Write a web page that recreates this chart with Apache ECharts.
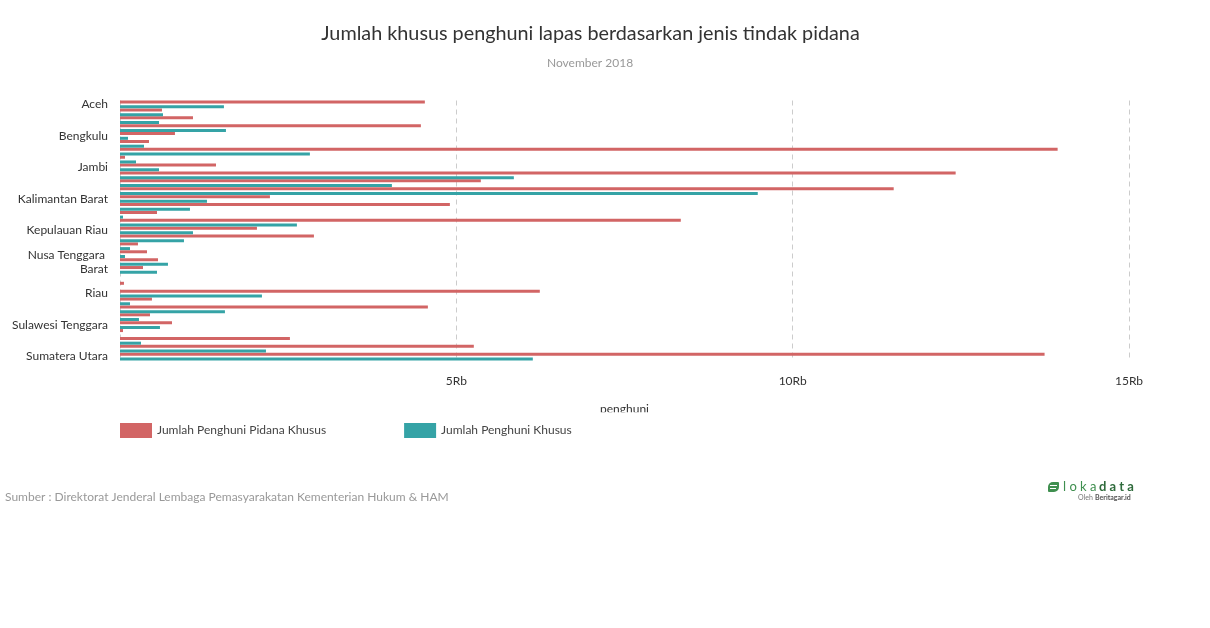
<!DOCTYPE html>
<html>
<head>
<meta charset="utf-8">
<script src="https://cdn.jsdelivr.net/npm/echarts@6/dist/echarts.min.js"></script>
<style>
html,body{margin:0;padding:0;background:#fff;}
#chart{width:1210px;height:628px;}
</style>
</head>
<body>
<div id="chart"></div>
<script>
const categories = ["Aceh","Bali","Bangka Belitung","Banten","Bengkulu","DI Yogyakarta","DKI Jakarta","Gorontalo","Jambi","Jawa Barat","Jawa Tengah","Jawa Timur","Kalimantan Barat","Kalimantan Selatan","Kalimantan Tengah","Kalimantan Timur","Kepulauan Riau","Lampung","Maluku","Maluku Utara","Nusa Tenggara Barat","Nusa Tenggara Timur","Papua","Papua Barat","Riau","Sulawesi Barat","Sulawesi Selatan","Sulawesi Tengah","Sulawesi Tenggara","Sulawesi Utara","Sumatera Barat","Sumatera Selatan","Sumatera Utara"];
const pidanaKhusus = [4532,624,1085,4473,817,431,13939,74,1427,12423,5364,11502,2229,4904,550,8337,2036,2883,267,401,565,342,0,59,6241,475,4577,446,773,45,2526,5260,13745];
const penghuniKhusus = [1545,639,580,1575,119,357,2823,238,580,5855,4042,9481,1293,1040,45,2630,1085,951,149,74,713,550,0,0,2110,149,1560,282,594,0,312,2170,6137];
const xTicks = [0,5000,10000,15000];
const seriesNames = ["Jumlah Penghuni Pidana Khusus","Jumlah Penghuni Khusus"];
const colors = ["#d26565","#35a3a6"];

const chart = echarts.init(document.getElementById('chart'), null, {renderer:'canvas'});
const FONT = 'Lato';
chart.setOption({
  animation:false,
  color: colors,
  textStyle:{fontFamily:FONT},
  title:[
    {text:"Jumlah khusus penghuni lapas berdasarkan jenis tindak pidana", left:585.5, top:19, textAlign:'center',
     textStyle:{fontFamily:FONT,fontSize:19.8,fontWeight:'normal',color:'#333'}},
    {text:"November 2018", left:585, top:52, textAlign:'center',
     textStyle:{fontFamily:FONT,fontSize:12,fontWeight:'normal',color:'#999'}}
  ],
  legend:{
    left:115, top:418, itemWidth:32, itemHeight:15, itemGap:78, icon:'rect',
    textStyle:{fontFamily:FONT,fontSize:12,color:'#444'},
    data:seriesNames
  },
  grid:{left:120, right:81, top:100.5, height:260, containLabel:false},
  xAxis:{
    type:'value', min:xTicks[0], max:xTicks[xTicks.length-1], interval:5000,
    axisLine:{show:false}, axisTick:{show:false},
    axisLabel:{margin:15, fontFamily:FONT, fontSize:12, color:'#333',
      formatter:function(v){ return v===0 ? '' : (v/1000)+'Rb'; }},
    splitLine:{show:true, lineStyle:{type:[5,4], color:'#ccc', width:1}}
  },
  yAxis:{
    type:'category', data:categories, inverse:true,
    axisLine:{show:false}, axisTick:{show:false},
    axisLabel:{interval:3, margin:12, fontFamily:FONT, fontSize:12, color:'#333',
      width:100, overflow:'break', lineHeight:14}
  },
  series:[
    {name:seriesNames[0], type:'bar', data:pidanaKhusus, barWidth:3, barGap:'57%',
     itemStyle:{color:colors[0]}},
    {name:seriesNames[1], type:'bar', data:penghuniKhusus, barWidth:3, barGap:'57%',
     itemStyle:{color:colors[1]}}
  ],
  graphic:[
    {type:'text', z:50, style:{text:'penghuni', x:624.5, y:415.5, textAlign:'center', textVerticalAlign:'bottom',
      font:'12px Lato', fill:'#333'}},
    {type:'rect', z:60, shape:{x:570,y:412.3,width:110,height:9}, style:{fill:'#fff'}},
    {type:'text', z:50, style:{text:'Sumber : Direktorat Jenderal Lembaga Pemasyarakatan Kementerian Hukum & HAM',
      x:5, y:497, textVerticalAlign:'middle', font:'12px Lato', fill:'#999'}},
    {type:'rect', z:50, shape:{x:1048,y:482,width:11,height:10,r:[5,1,5,1]}, style:{fill:'#3f8f4f'}},
    {type:'rect', z:51, shape:{x:1050,y:485,width:7,height:1}, style:{fill:'#fff'}},
    {type:'rect', z:51, shape:{x:1050,y:488,width:6,height:1}, style:{fill:'#fff'}},
    {type:'text', z:50, style:{text:'l o k a', x:1063, y:487, textVerticalAlign:'middle', font:'13px Lato', fill:'#3f8f4f'}},
    {type:'text', z:50, style:{text:'d a t a', x:1099, y:487, textVerticalAlign:'middle', font:'bold 13px Lato', fill:'#2f6b3c'}},
    {type:'text', z:50, style:{text:'Oleh', x:1078, y:498, textVerticalAlign:'middle', font:'7px Lato', fill:'#777'}},
    {type:'text', z:50, style:{text:'Beritagar.id', x:1095, y:498, textVerticalAlign:'middle', font:'bold 7px Lato', fill:'#555'}}
  ]
});
</script>
</body>
</html>
